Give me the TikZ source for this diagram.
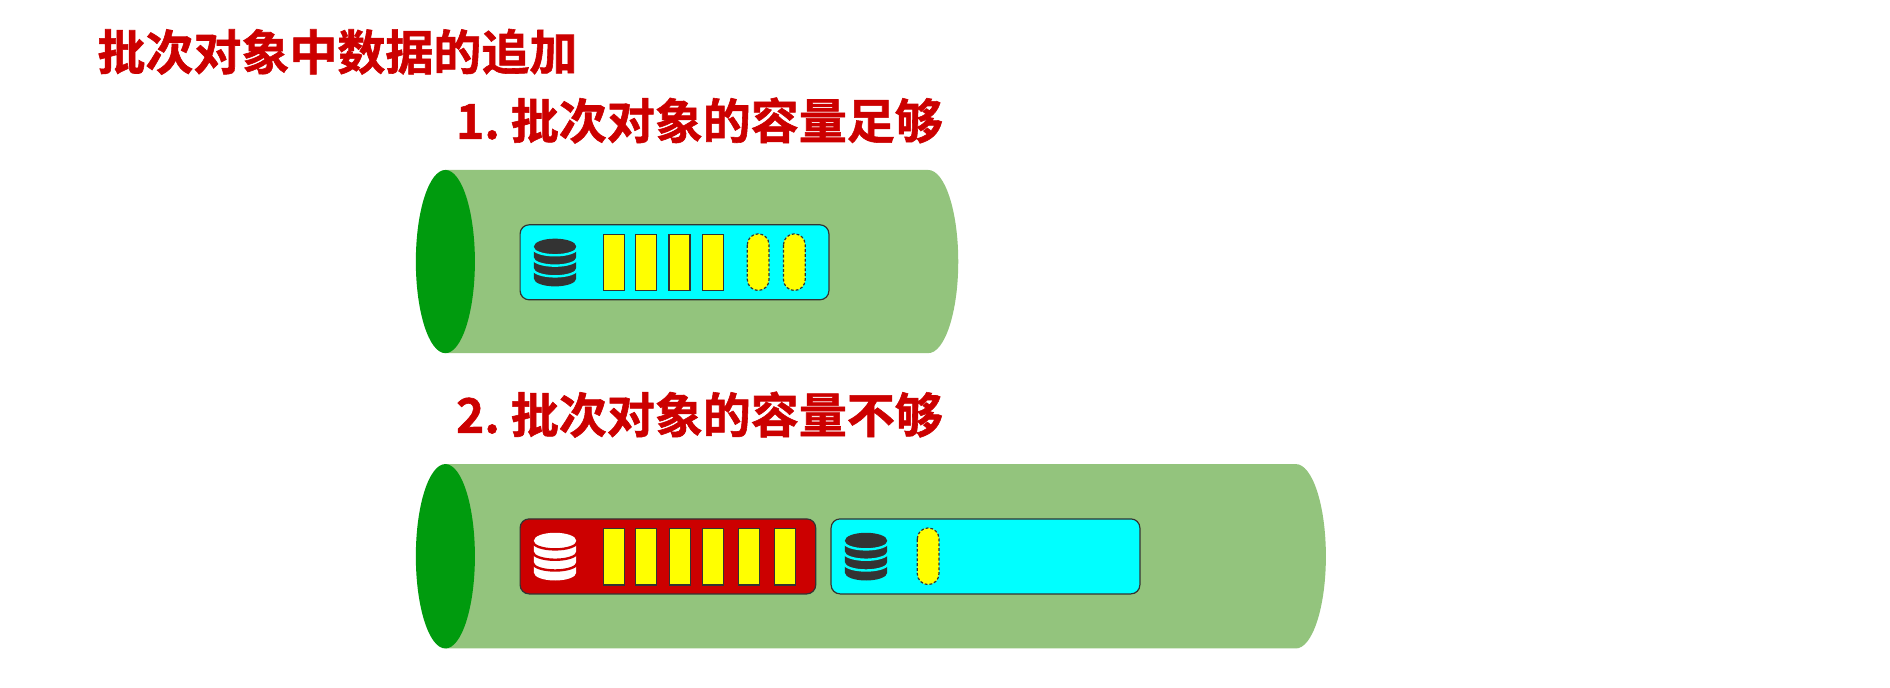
\documentclass[tikz,border=0pt]{standalone}
\usepackage{fontspec}
\newfontfamily\headfont{Noto Sans CJK SC Bold}[FakeBold=1.2]
\definecolor{tube}{HTML}{93C47D}
\definecolor{tubeend}{HTML}{009B0E}
\definecolor{ink}{HTML}{333333}
\definecolor{deepred}{HTML}{CC0000}
\definecolor{aqua}{RGB}{0,255,255}
\definecolor{bar yellow}{RGB}{255,255,0}
\newcommand{\dbicon}[4]{%
  \fill[#3] (#1-17.5,#2+6.4) arc[start angle=180,end angle=360,x radius=17.5,y radius=6.4] -- (#1+17.5,#2+33.2)
     arc[start angle=0,end angle=180,x radius=17.5,y radius=6.4] -- cycle;
  \foreach \d in {7.4,16,24.9}{
    \draw[#4,line width=1.2pt] (#1-18.5,#2+\d) arc[start angle=180,end angle=0,x radius=18.5,y radius=6.4];
  }%
}
\newcommand{\tubeshape}[4]{% left centre, right centre, top, bottom
  \fill[tube] (#1,#3) -- (#2,#3) arc[start angle=-90,end angle=90,x radius=25,y radius={(#4-#3)/2}] -- (#1,#4) -- cycle;
  \fill[tubeend] (#1,{(#3+#4)/2}) ellipse[x radius=24.5,y radius={(#4-#3)/2}];
}
\newcommand{\pillshape}[2]{% left, top
  \draw[pill] (#1,#2+9) arc[start angle=180,end angle=360,radius=9] -- (#1+18,#2+38)
     arc[start angle=0,end angle=180,radius=9] -- cycle;
}
\begin{document}
\begin{tikzpicture}[x=0.60268pt,y=-0.60268pt,
  heading/.style={anchor=west,inner sep=0pt,text=deepred,font=\headfont\fontsize{24}{24}\selectfont},
  batch/.style={draw=ink,line width=0.6pt,rounded corners=4.5pt,minimum height=37.5pt,inner sep=0pt,anchor=north west},
  bar/.style={draw=ink,line width=0.6pt,fill=bar yellow,minimum width=10.5pt,minimum height=28.2pt,inner sep=0pt,anchor=north west},
  pill/.style={draw=ink,line width=0.6pt,dash pattern=on 1.4pt off 1pt,fill=bar yellow}]
\useasboundingbox (0,0) rectangle (1568,570);
\fill[white] (0,0) rectangle (1568,570);

\node[heading] (title) at (80.5,43) {批次对象中数据的追加};
\node[heading] (headA) at (378,100) {1.\kern-1.8pt{} 批次对象的容量足够};
\node[heading] (headB) at (378,344) {2.\kern-1.8pt{} 批次对象的容量不够};

% first tube
\tubeshape{369.5}{770}{141}{293}
\node[batch,fill=aqua,minimum width=154.4pt] (boxA) at (431,186) {};
\dbicon{460.5}{198}{ink}{aqua}
\foreach \n/\x in {a1/500,a2/527,a3/554.5,a4/582}{
  \node[bar] (\n) at (\x,194) {};
}
\pillshape{620}{194}
\pillshape{650}{194}

% second tube
\tubeshape{369.5}{1075}{385}{538}
\node[batch,fill=deepred,minimum width=147.8pt] (boxB) at (431,430) {};
\dbicon{460.5}{442}{white}{deepred}
\foreach \n/\x in {b1/500,b2/527,b3/555,b4/582,b5/612,b6/642}{
  \node[bar] (\n) at (\x,438) {};
}
\node[batch,fill=aqua,minimum width=154.4pt] (boxC) at (689,430) {};
\dbicon{718.5}{442}{ink}{aqua}
\pillshape{761}{438}
\end{tikzpicture}
\end{document}
